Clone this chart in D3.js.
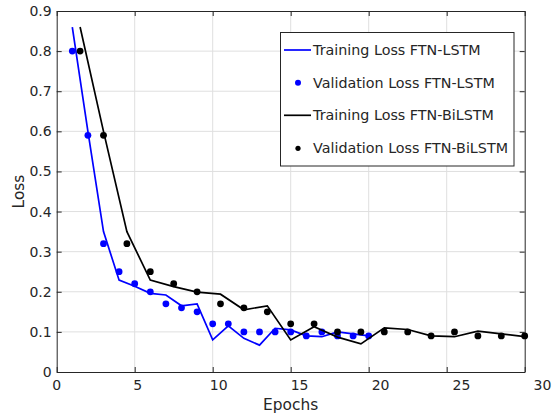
<!DOCTYPE html>
<html>
<head>
<meta charset="utf-8">
<script src="https://cdn.jsdelivr.net/npm/d3@7"></script>
<style>
  html, body { margin: 0; padding: 0; background: #fff; }
  svg { display: block; font-family: "DejaVu Sans", sans-serif; }
</style>
</head>
<body>
<svg id="chart" width="553" height="417"></svg>
<script>
// Epoch positions for each model
const epochsLSTM = [1,2,3,4,5,6,7,8,9,10,11,12,13,14,15,16,17,18,19,20];
const epochsBiLSTM = [1.5,3,4.5,6,7.5,9,10.5,12,13.5,15,16.5,18,19.5,21,22.5,24,25.5,27,28.5,30];

// Loss values
const trainLSTM = [0.86,0.60,0.35,0.229,0.214,0.196,0.192,0.165,0.17,0.08,0.115,0.084,0.067,0.109,0.105,0.09,0.088,0.10,0.095,0.09];
const valLSTM   = [0.80,0.59,0.32,0.25,0.22,0.20,0.17,0.16,0.15,0.12,0.12,0.10,0.10,0.10,0.10,0.09,0.10,0.09,0.09,0.09];
const trainBiLSTM = [0.86,0.60,0.35,0.229,0.213,0.199,0.194,0.155,0.165,0.08,0.113,0.087,0.07,0.11,0.106,0.09,0.088,0.102,0.095,0.088];
const valBiLSTM   = [0.80,0.59,0.32,0.25,0.22,0.20,0.17,0.16,0.15,0.12,0.12,0.10,0.10,0.10,0.10,0.09,0.10,0.09,0.09,0.09];

// Axis ticks and labels
const xTicks = [0,5,10,15,20,25,30];
const yTicks = [0,0.1,0.2,0.3,0.4,0.5,0.6,0.7,0.8,0.9];
const xLabel = "Epochs";
const yLabel = "Loss";
const legendItems = [
  {name: "Training Loss FTN-LSTM", color: "#0000ff", type: "line"},
  {name: "Validation Loss FTN-LSTM", color: "#0000ff", type: "dot"},
  {name: "Training Loss FTN-BiLSTM", color: "#000000", type: "line"},
  {name: "Validation Loss FTN-BiLSTM", color: "#000000", type: "dot"}
];

const textColor = "#262626";
const gridColor = "#dfdfdf";

const svg = d3.select("#chart");
const plotL = 56.7, plotR = 524.7, plotT = 11, plotB = 372;

const x = d3.scaleLinear().domain([0, 30]).range([plotL, plotR]);
// tick labels are spread slightly wider than the plot box
const xLab = d3.scaleLinear().domain([0, 30]).range([plotL, 542.5]);
const y = d3.scaleLinear().domain([0, 0.9]).range([plotB, plotT]);

// grid
const grid = svg.append("g");
grid.selectAll("line.gx").data(xTicks.slice(1, -1)).join("line")
  .attr("x1", d => x(d)).attr("x2", d => x(d))
  .attr("y1", plotT).attr("y2", plotB)
  .attr("stroke", gridColor).attr("stroke-width", 1);
grid.selectAll("line.gy").data(yTicks.slice(1, -1)).join("line")
  .attr("x1", plotL).attr("x2", plotR)
  .attr("y1", d => y(d)).attr("y2", d => y(d))
  .attr("stroke", gridColor).attr("stroke-width", 1);

// axes with inward ticks on all four sides
function styleAxis(g) {
  g.selectAll("path.domain").attr("stroke", textColor).attr("stroke-width", 1);
  g.selectAll(".tick line").attr("stroke", textColor).attr("stroke-width", 1);
  g.selectAll(".tick text").remove();
}
svg.append("g").attr("transform", `translate(0,${plotB})`)
  .call(d3.axisBottom(x).tickValues(xTicks).tickSizeInner(-5).tickSizeOuter(0))
  .call(styleAxis);
svg.append("g").attr("transform", `translate(0,${plotT})`)
  .call(d3.axisTop(x).tickValues(xTicks).tickSizeInner(-5).tickSizeOuter(0))
  .call(styleAxis);
svg.append("g").attr("transform", `translate(${plotL},0)`)
  .call(d3.axisLeft(y).tickValues(yTicks).tickSizeInner(-5).tickSizeOuter(0))
  .call(styleAxis);
svg.append("g").attr("transform", `translate(${plotR},0)`)
  .call(d3.axisRight(y).tickValues(yTicks).tickSizeInner(-5).tickSizeOuter(0))
  .call(styleAxis);

// tick labels
svg.append("g").selectAll("text").data(xTicks).join("text")
  .attr("x", d => xLab(d)).attr("y", 390)
  .attr("text-anchor", "middle").attr("font-size", 14).attr("fill", textColor)
  .text(d => d);
svg.append("g").selectAll("text").data(yTicks).join("text")
  .attr("x", plotL - 5).attr("y", d => y(d)).attr("dy", "0.36em")
  .attr("text-anchor", "end").attr("font-size", 14).attr("fill", textColor)
  .text(d => d3.format("~g")(d));

// axis titles
svg.append("text").attr("x", (plotL + plotR) / 2).attr("y", 410)
  .attr("text-anchor", "middle").attr("font-size", 15.4).attr("fill", textColor)
  .text(xLabel);
svg.append("text").attr("transform", `translate(24,${(plotT + plotB) / 2}) rotate(-90)`)
  .attr("text-anchor", "middle").attr("font-size", 15.4).attr("fill", textColor)
  .text(yLabel);

// series
const line = d3.line().x(d => x(d[0])).y(d => y(d[1]));
function drawLine(xs, ys, color) {
  svg.append("path").datum(d3.zip(xs, ys))
    .attr("d", line).attr("fill", "none")
    .attr("stroke", color).attr("stroke-width", 1.7)
    .attr("stroke-linejoin", "miter");
}
function drawDots(xs, ys, color) {
  svg.append("g").selectAll("circle").data(d3.zip(xs, ys)).join("circle")
    .attr("cx", d => x(d[0])).attr("cy", d => y(d[1])).attr("r", 3.4)
    .attr("fill", color);
}
drawLine(epochsLSTM, trainLSTM, "#0000ff");
drawDots(epochsLSTM, valLSTM, "#0000ff");
drawLine(epochsBiLSTM, trainBiLSTM, "#000000");
drawDots(epochsBiLSTM, valBiLSTM, "#000000");

// legend
const lg = svg.append("g");
lg.append("rect").attr("x", 280.5).attr("y", 32.5).attr("width", 233.5).attr("height", 133.5)
  .attr("fill", "#fff").attr("stroke", textColor).attr("stroke-width", 1);
const rowY = [50, 82.8, 115.3, 148.3];
legendItems.forEach((it, i) => {
  const cy = rowY[i];
  if (it.type === "line") {
    lg.append("line").attr("x1", 284).attr("x2", 311).attr("y1", cy).attr("y2", cy)
      .attr("stroke", it.color).attr("stroke-width", 1.7);
  } else {
    lg.append("circle").attr("cx", 298).attr("cy", cy).attr("r", i === 1 ? 3 : 2.6)
      .attr("fill", it.color);
  }
  lg.append("text").attr("x", 313).attr("y", cy).attr("dy", "0.36em")
    .attr("font-size", 14.3).attr("fill", textColor).text(it.name);
});
</script>
</body>
</html>
